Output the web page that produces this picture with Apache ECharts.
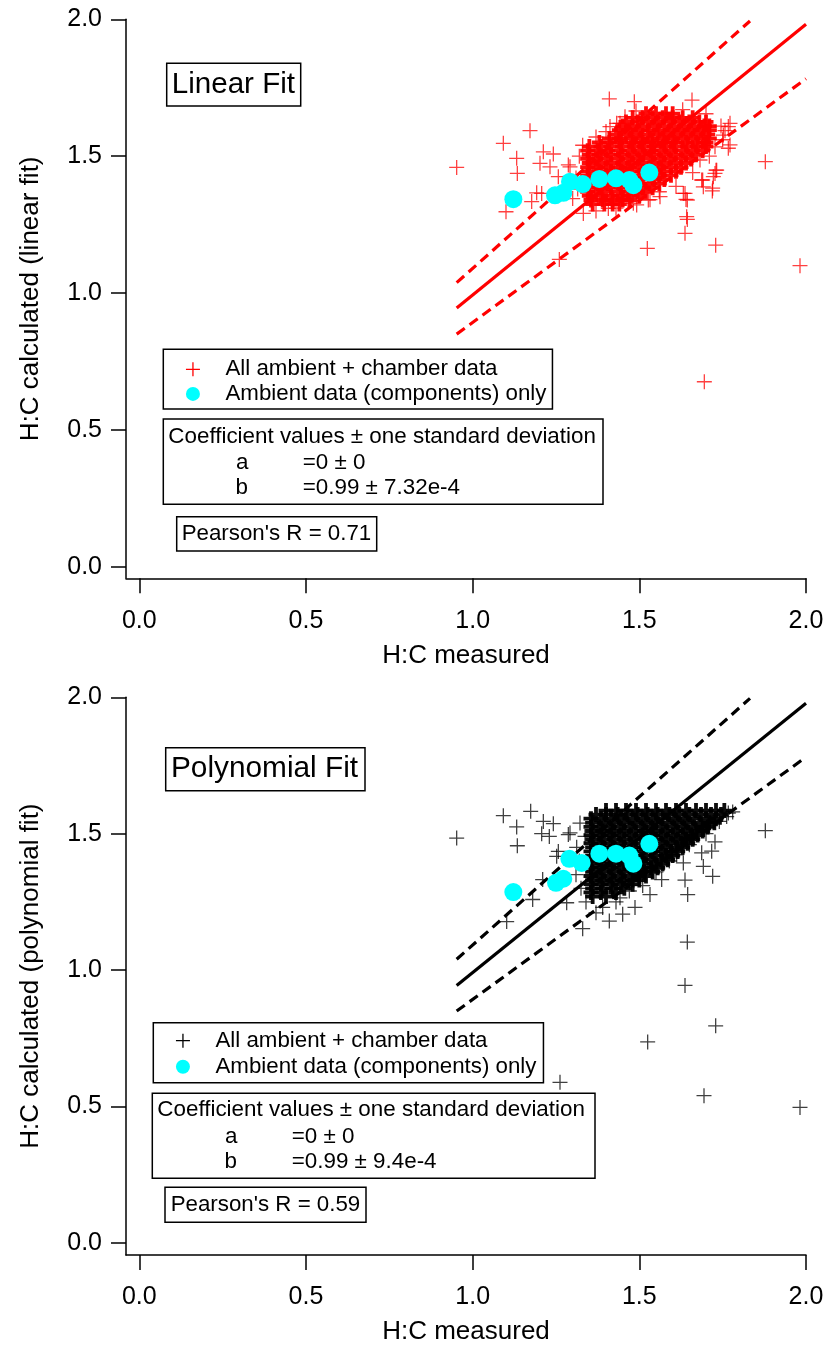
<!DOCTYPE html>
<html>
<head>
<meta charset="utf-8">
<script src="https://cdn.jsdelivr.net/npm/echarts@6/dist/echarts.min.js"></script>
<style>
  html, body { margin: 0; padding: 0; background: #fff; }
  #chart { width: 828px; height: 1346px; }
</style>
</head>
<body>
<div id="chart"></div>
<script>
// tick positions shared by both panels
const xTicks = [0, 0.5, 1.0, 1.5, 2.0];
const yTicks = [0, 0.5, 1.0, 1.5, 2.0];

// ---- top panel (linear fit) ----
// dense core of the red cloud, one row per y: [y, x1, x2, ...]
const redCore = [
  [1.655, 1.52, 1.55, 1.58, 1.60],
  [1.64, 1.48, 1.51, 1.54, 1.57, 1.60, 1.63, 1.66],
  [1.625, 1.46, 1.495, 1.525, 1.555, 1.59, 1.62, 1.65, 1.68, 1.70],
  [1.61, 1.45, 1.48, 1.51, 1.545, 1.575, 1.605, 1.635, 1.665, 1.695, 1.71],
  [1.595, 1.44, 1.47, 1.50, 1.53, 1.56, 1.595, 1.625, 1.655, 1.685, 1.71],
  [1.58, 1.43, 1.46, 1.49, 1.525, 1.555, 1.585, 1.615, 1.645, 1.675, 1.705],
  [1.565, 1.41, 1.44, 1.475, 1.505, 1.535, 1.57, 1.60, 1.63, 1.66, 1.69, 1.71],
  [1.55, 1.38, 1.41, 1.445, 1.48, 1.51, 1.54, 1.575, 1.605, 1.64, 1.67, 1.70],
  [1.535, 1.35, 1.385, 1.415, 1.45, 1.485, 1.515, 1.545, 1.58, 1.61, 1.645, 1.675, 1.70],
  [1.52, 1.345, 1.375, 1.405, 1.44, 1.47, 1.50, 1.535, 1.565, 1.595, 1.63, 1.66, 1.69],
  [1.505, 1.35, 1.38, 1.415, 1.445, 1.48, 1.51, 1.54, 1.575, 1.605, 1.64, 1.67],
  [1.49, 1.345, 1.37, 1.40, 1.435, 1.465, 1.495, 1.53, 1.56, 1.59, 1.625, 1.655],
  [1.475, 1.35, 1.385, 1.415, 1.45, 1.48, 1.51, 1.545, 1.575, 1.61, 1.64],
  [1.46, 1.345, 1.375, 1.405, 1.44, 1.47, 1.50, 1.535, 1.565, 1.595, 1.625],
  [1.445, 1.35, 1.38, 1.415, 1.445, 1.475, 1.51, 1.54, 1.57, 1.61],
  [1.43, 1.345, 1.37, 1.40, 1.435, 1.465, 1.50, 1.53, 1.56, 1.595],
  [1.415, 1.35, 1.385, 1.415, 1.45, 1.48, 1.51, 1.545, 1.575],
  [1.40, 1.345, 1.375, 1.405, 1.44, 1.47, 1.50, 1.53, 1.56],
  [1.385, 1.35, 1.38, 1.415, 1.445, 1.475, 1.51, 1.54],
  [1.37, 1.345, 1.37, 1.40, 1.435, 1.465, 1.495, 1.52],
  [1.355, 1.35, 1.385, 1.415, 1.445, 1.475, 1.50],
  [1.34, 1.355, 1.39, 1.42, 1.45, 1.47],
  [1.325, 1.36, 1.395, 1.42, 1.44]
];
// scattered red points around the core
const redLoose = [
  [0.952, 1.459], [1.092, 1.547], [1.172, 1.593], [1.132, 1.492], [1.134, 1.437],
  [1.100, 1.297], [1.212, 1.516], [1.242, 1.508], [1.202, 1.474], [1.232, 1.461],
  [1.287, 1.468], [1.257, 1.425], [1.192, 1.366], [1.177, 1.334], [1.207, 1.364],
  [1.260, 1.123], [1.410, 1.709], [1.485, 1.699], [1.658, 1.705], [1.878, 1.480],
  [1.982, 1.100], [1.524, 1.163], [1.729, 1.175], [1.637, 1.218], [1.644, 1.269],
  [1.640, 1.342], [1.632, 1.364], [1.719, 1.373], [1.690, 1.413], [1.727, 1.437],
  [1.730, 1.449], [1.757, 1.593], [1.772, 1.620], [1.767, 1.529], [1.695, 0.676],
  [1.292, 1.461], [1.332, 1.291], [1.407, 1.309], [1.412, 1.608], [1.442, 1.620],
  [1.457, 1.644], [1.432, 1.620], [1.767, 1.608], [1.772, 1.541], [1.752, 1.577],
  [1.727, 1.534], [1.682, 1.486], [1.732, 1.449], [1.722, 1.425], [1.687, 1.413],
  [1.692, 1.388], [1.720, 1.383], [1.637, 1.364], [1.644, 1.340], [1.642, 1.279],
  [1.532, 1.341], [1.492, 1.322], [1.482, 1.328], [1.527, 1.340], [1.562, 1.352],
  [1.310, 1.420], [1.315, 1.380], [1.300, 1.345], [1.320, 1.500], [1.330, 1.540],
  [1.370, 1.570], [1.400, 1.590], [1.490, 1.665], [1.630, 1.670], [1.700, 1.655],
  [1.745, 1.610], [1.750, 1.560], [1.710, 1.500], [1.660, 1.440], [1.610, 1.390],
  [1.560, 1.370], [1.430, 1.310], [1.370, 1.300]
];
const cyanTop = [
  [1.122, 1.343], [1.247, 1.357], [1.272, 1.366], [1.292, 1.407], [1.330, 1.398],
  [1.380, 1.417], [1.430, 1.419], [1.470, 1.413], [1.482, 1.394], [1.530, 1.440]
];
const fitTop = [[0.952, 0.945], [2.0, 1.982]];
const upperTop = [[0.952, 1.038], [1.832, 1.994]];
const lowerTop = [[0.952, 0.850], [2.0, 1.783]];

// ---- bottom panel (polynomial fit) ----
const blackCore = [
  [1.585, 1.40, 1.43, 1.46, 1.49, 1.52, 1.55, 1.58, 1.61, 1.64, 1.67, 1.70, 1.73, 1.755],
  [1.57, 1.37, 1.40, 1.435, 1.465, 1.495, 1.525, 1.555, 1.59, 1.62, 1.65, 1.685, 1.715, 1.745],
  [1.555, 1.355, 1.385, 1.415, 1.445, 1.48, 1.51, 1.54, 1.57, 1.605, 1.635, 1.665, 1.70, 1.73],
  [1.54, 1.36, 1.395, 1.425, 1.455, 1.49, 1.52, 1.55, 1.585, 1.615, 1.645, 1.68, 1.71, 1.725],
  [1.525, 1.355, 1.38, 1.41, 1.44, 1.47, 1.505, 1.535, 1.565, 1.60, 1.63, 1.66, 1.69, 1.705],
  [1.51, 1.36, 1.39, 1.42, 1.455, 1.485, 1.515, 1.545, 1.58, 1.61, 1.64, 1.67, 1.69],
  [1.495, 1.355, 1.385, 1.415, 1.445, 1.475, 1.51, 1.54, 1.57, 1.60, 1.63, 1.655, 1.675],
  [1.48, 1.36, 1.395, 1.425, 1.455, 1.49, 1.52, 1.55, 1.585, 1.615, 1.64, 1.66],
  [1.465, 1.355, 1.38, 1.41, 1.44, 1.47, 1.505, 1.535, 1.565, 1.595, 1.625, 1.645],
  [1.45, 1.36, 1.39, 1.42, 1.455, 1.485, 1.515, 1.545, 1.58, 1.61, 1.63],
  [1.435, 1.355, 1.385, 1.415, 1.445, 1.475, 1.51, 1.54, 1.57, 1.595, 1.615],
  [1.42, 1.36, 1.395, 1.425, 1.455, 1.49, 1.52, 1.55, 1.58, 1.60],
  [1.405, 1.355, 1.38, 1.41, 1.44, 1.47, 1.505, 1.535, 1.565, 1.585],
  [1.39, 1.36, 1.39, 1.42, 1.455, 1.485, 1.515, 1.545, 1.57],
  [1.375, 1.355, 1.385, 1.415, 1.445, 1.475, 1.51, 1.535, 1.555],
  [1.36, 1.36, 1.395, 1.425, 1.455, 1.49, 1.515, 1.54],
  [1.345, 1.355, 1.38, 1.41, 1.44, 1.47, 1.50, 1.52],
  [1.33, 1.36, 1.39, 1.42, 1.45, 1.48, 1.50],
  [1.315, 1.355, 1.385, 1.415, 1.445, 1.48],
  [1.30, 1.36, 1.39, 1.42, 1.455],
  [1.285, 1.355, 1.385, 1.43],
  [1.27, 1.36, 1.40]
];
const blackLoose = [
  [0.952, 1.484], [1.092, 1.566], [1.174, 1.582], [1.132, 1.525], [1.134, 1.456],
  [1.102, 1.178], [1.212, 1.545], [1.242, 1.537], [1.207, 1.500], [1.230, 1.490],
  [1.287, 1.497], [1.257, 1.435], [1.210, 1.332], [1.180, 1.259], [1.330, 1.152],
  [1.410, 1.180], [1.487, 1.230], [1.878, 1.511], [1.644, 1.103], [1.637, 0.944],
  [1.729, 0.796], [1.525, 0.737], [1.262, 0.589], [1.694, 0.540], [1.982, 0.497],
  [1.767, 1.576], [1.727, 1.470], [1.717, 1.436], [1.687, 1.430], [1.692, 1.380],
  [1.720, 1.344], [1.637, 1.330], [1.645, 1.277], [1.567, 1.332], [1.632, 1.393],
  [1.612, 1.423], [1.672, 1.515], [1.762, 1.563], [1.532, 1.277], [1.442, 1.265],
  [1.292, 1.503], [1.252, 1.417], [1.282, 1.247], [1.322, 1.539], [1.337, 1.490],
  [1.312, 1.450], [1.320, 1.400], [1.310, 1.350], [1.325, 1.300], [1.340, 1.250],
  [1.390, 1.230], [1.430, 1.250], [1.470, 1.290], [1.510, 1.310], [1.550, 1.360],
  [1.590, 1.400], [1.650, 1.460], [1.700, 1.500], [1.740, 1.545], [1.780, 1.580],
  [1.370, 1.210], [1.450, 1.205]
];
const cyanBottom = [
  [1.122, 1.286], [1.250, 1.320], [1.272, 1.335], [1.290, 1.408], [1.327, 1.393],
  [1.380, 1.427], [1.430, 1.427], [1.470, 1.420], [1.482, 1.390], [1.530, 1.463]
];
const fitBottom = [[0.952, 0.944], [2.0, 1.978]];
const upperBottom = [[0.952, 1.040], [1.832, 1.996]];
const lowerBottom = [[0.952, 0.850], [2.0, 1.781]];

const legendText = { all: 'All ambient + chamber data', amb: 'Ambient data (components) only' };
const FONT = '"Liberation Sans", Arial, sans-serif';
const cross = 'path://M7.5,0L7.5,15M0,7.5L15,7.5';

// [y, x1, x2...] rows -> [x, y] points
function unrow(rows) {
  return rows.flatMap(r => r.slice(1).map(x => [x, r[0]]));
}

function xAxis(gridIndex, gap) {
  return {
    type: 'value', gridIndex, min: -0.04, max: 2.0,
    name: 'H:C measured', nameLocation: 'middle', nameGap: gap,
    nameTextStyle: { fontFamily: FONT, fontSize: 26, color: '#000' },
    axisLine: { onZero: false, lineStyle: { color: '#000', width: 1.5 } },
    axisTick: { length: 15, customValues: xTicks, lineStyle: { color: '#000', width: 1.5 } },
    axisLabel: { customValues: xTicks, formatter: v => v.toFixed(1), margin: 30,
      fontFamily: FONT, fontSize: 25, color: '#000' },
    splitLine: { show: false }
  };
}
function yAxis(gridIndex, name, min) {
  return {
    type: 'value', gridIndex, min, max: 2.0,
    name, nameLocation: 'middle', nameRotate: 90, nameGap: 82,
    nameTextStyle: { fontFamily: FONT, fontSize: 26, color: '#000' },
    axisLine: { onZero: false, lineStyle: { color: '#000', width: 1.5 } },
    axisTick: { length: 15, customValues: yTicks, lineStyle: { color: '#000', width: 1.5 } },
    axisLabel: { customValues: yTicks, formatter: v => v.toFixed(1), margin: 24,
      fontFamily: FONT, fontSize: 25, color: '#000' },
    splitLine: { show: false }
  };
}

function crossSeries(name, idx, data, color, width, opacity) {
  return {
    type: 'scatter', name, xAxisIndex: idx, yAxisIndex: idx, data,
    symbol: cross, symbolSize: 15, silent: true, z: 2,
    itemStyle: { color, borderColor: color, borderWidth: width, opacity }
  };
}
function lineSeries(idx, data, color, dashed) {
  return {
    type: 'line', xAxisIndex: idx, yAxisIndex: idx, data, showSymbol: false, silent: true, z: 3,
    lineStyle: { color, width: 3.2, type: dashed ? [10, 6] : 'solid' }
  };
}
function dotSeries(name, idx, data) {
  return {
    type: 'scatter', name, xAxisIndex: idx, yAxisIndex: idx, data,
    symbol: 'circle', symbolSize: 18, silent: true, z: 4,
    itemStyle: { color: '#00ffff', opacity: 1 }
  };
}
function legend(suffix, left, top, gap, padding, color) {
  return {
    orient: 'vertical', left, top, itemWidth: 55, itemHeight: 14, itemGap: gap, padding,
    selectedMode: false, borderColor: '#000', borderWidth: 1.5, backgroundColor: '#fff',
    data: [
      { name: 'all' + suffix, icon: cross, itemStyle: { color, borderColor: color, borderWidth: 1.3, opacity: 1 } },
      { name: 'amb' + suffix, icon: 'circle' }
    ],
    formatter: n => legendText[n.slice(0, 3)],
    textStyle: { fontFamily: FONT, fontSize: 22.3, color: '#000' }
  };
}
function box(x, y, w, h) {
  return { type: 'rect', silent: true, z: 10, shape: { x, y, width: w, height: h },
    style: { fill: '#fff', stroke: '#000', lineWidth: 1.5 } };
}
function label(text, x, y, size) {
  return { type: 'text', silent: true, z: 11, x, y,
    style: { text, font: size + 'px ' + FONT, fill: '#000', align: 'left', verticalAlign: 'middle' } };
}

const chart = echarts.init(document.getElementById('chart'));
chart.setOption({
  animation: false,
  backgroundColor: '#fff',
  grid: [
    { left: 126, top: 19.3, width: 680, height: 559 },
    { left: 126, top: 697.3, width: 680, height: 559.4 }
  ],
  xAxis: [xAxis(0, 65), xAxis(1, 64)],
  yAxis: [yAxis(0, 'H:C calculated (linear fit)', -0.042), yAxis(1, 'H:C calculated (polynomial fit)', -0.044)],
  legend: [
    legend('1', 163.3, 349.3, 2.6, [9, 6, 4, 22], '#ff0000'),
    legend('2', 153.3, 1022.7, 4, [7, 7, 5, 22], '#000')
  ],
  series: [
    crossSeries('all1', 0, redLoose, '#ff0000', 1.3, 0.75),
    crossSeries('all1', 0, unrow(redCore), '#ff0000', 3.8, 0.95),
    lineSeries(0, fitTop, '#ff0000', false),
    lineSeries(0, upperTop, '#ff0000', true),
    lineSeries(0, lowerTop, '#ff0000', true),
    dotSeries('amb1', 0, cyanTop),

    crossSeries('all2', 1, blackLoose, '#000', 1.3, 0.75),
    crossSeries('all2', 1, unrow(blackCore), '#000', 3.8, 0.95),
    lineSeries(1, fitBottom, '#000', false),
    lineSeries(1, upperBottom, '#000', true),
    lineSeries(1, lowerBottom, '#000', true),
    dotSeries('amb2', 1, cyanBottom)
  ],
  graphic: [
    box(166.7, 63.3, 134, 42.7),
    label('Linear Fit', 171.7, 85, 29.6),
    box(163.3, 419, 439.7, 85.3),
    label('Coefficient values ± one standard deviation', 168.3, 436.7, 22.4),
    label('a', 236, 463.3, 22.4),
    label('=0 ± 0', 302.7, 463.3, 22.4),
    label('b', 235.5, 488.3, 22.4),
    label('=0.99 ± 7.32e-4', 302.7, 488.3, 22.4),
    box(176.7, 516.7, 200, 34.3),
    label("Pearson's R = 0.71", 181.7, 534, 22.3),

    box(165.7, 747.7, 199.3, 43),
    label('Polynomial Fit', 171, 769, 29.8),
    box(152.3, 1093.3, 442.7, 85),
    label('Coefficient values ± one standard deviation', 157.3, 1110, 22.4),
    label('a', 225, 1136.7, 22.4),
    label('=0 ± 0', 291.7, 1136.7, 22.4),
    label('b', 224.5, 1161.7, 22.4),
    label('=0.99 ± 9.4e-4', 291.7, 1161.7, 22.4),
    box(165, 1187.3, 201, 35),
    label("Pearson's R = 0.59", 170.7, 1205, 22.3)
  ]
});
</script>
</body>
</html>
